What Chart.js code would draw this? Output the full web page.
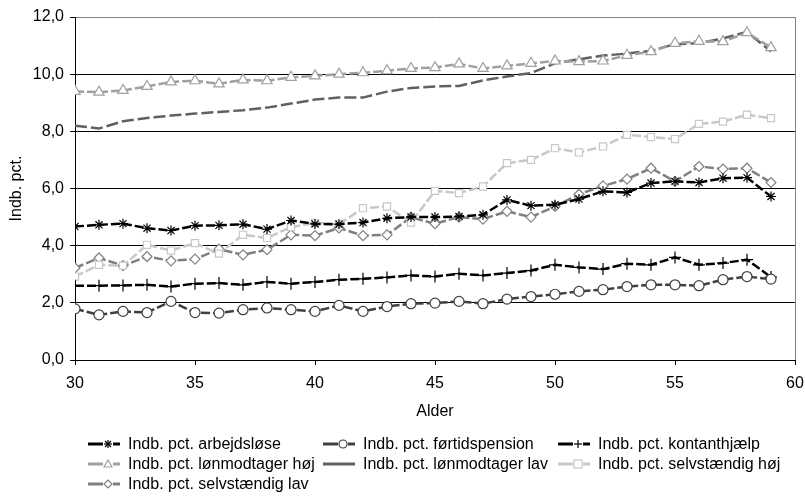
<!DOCTYPE html>
<html>
<head>
<meta charset="utf-8">
<script src="https://cdn.jsdelivr.net/npm/chart.js@4/dist/chart.umd.min.js"></script>
<style>
  html, body { margin: 0; padding: 0; background: #fff; }
  #wrap { position: relative; width: 805px; height: 496px; overflow: hidden; }
  #chart { position: absolute; left: 0; top: 0; }
  #legend { position: absolute; left: 0; top: 0; width: 805px; height: 496px; pointer-events: none;
            font-family: "Liberation Sans", Arial, sans-serif; font-size: 16px; color: #000; }
  .item { position: absolute; height: 20px; line-height: 20px; white-space: nowrap; }
  .item svg { position: absolute; left: 0; top: 0; }
  .item span { position: absolute; left: 40px; top: 0; }
</style>
</head>
<body>
<div id="wrap">
  <canvas id="chart" width="805" height="496"></canvas>
  <div id="legend"></div>
</div>
<script>
// Ages on the x axis
const ages = [30,31,32,33,34,35,36,37,38,39,40,41,42,43,44,45,46,47,48,49,50,51,52,53,54,55,56,57,58,59];

// Indbetalingsprocent by group
const arbejdsloese = [4.67,4.73,4.77,4.61,4.53,4.70,4.71,4.75,4.58,4.88,4.76,4.75,4.81,4.96,5.00,5.00,5.02,5.08,5.60,5.40,5.43,5.63,5.90,5.86,6.19,6.25,6.21,6.36,6.38,5.72];
const foertidspension = [1.79,1.58,1.70,1.66,2.05,1.66,1.64,1.76,1.82,1.76,1.70,1.91,1.70,1.87,1.97,1.99,2.05,1.97,2.13,2.22,2.30,2.40,2.46,2.57,2.63,2.63,2.60,2.81,2.92,2.83];
const kontanthjaelp = [2.60,2.60,2.61,2.63,2.57,2.67,2.69,2.63,2.73,2.67,2.73,2.81,2.84,2.89,2.96,2.92,3.02,2.96,3.04,3.13,3.33,3.24,3.18,3.37,3.33,3.59,3.33,3.39,3.51,2.90];
const loenmodtagerHoej = [9.40,9.37,9.43,9.57,9.73,9.77,9.66,9.80,9.77,9.89,9.94,10.00,10.05,10.12,10.20,10.23,10.36,10.20,10.29,10.38,10.46,10.44,10.46,10.66,10.79,11.08,11.15,11.14,11.45,10.93];
const loenmodtagerLav = [8.20,8.10,8.35,8.47,8.55,8.62,8.68,8.74,8.83,8.97,9.11,9.18,9.18,9.39,9.52,9.57,9.59,9.78,9.92,10.04,10.38,10.52,10.65,10.72,10.82,11.05,11.08,11.25,11.48,10.79];
const selvstaendigHoej = [2.92,3.33,3.30,4.03,3.83,4.09,3.72,4.38,4.27,4.65,4.80,4.75,5.31,5.37,4.81,5.92,5.84,6.07,6.89,7.00,7.41,7.26,7.47,7.88,7.80,7.73,8.26,8.34,8.58,8.46];
const selvstaendigLav = [3.22,3.57,3.30,3.62,3.47,3.53,3.88,3.68,3.86,4.38,4.35,4.62,4.35,4.38,4.99,4.77,5.00,4.93,5.20,5.00,5.37,5.80,6.09,6.33,6.71,6.25,6.77,6.68,6.71,6.21];

// Axis ticks
const xTicks = [30,35,40,45,50,55,60];
const yTicks = [0,2,4,6,8,10,12];

const FONT = { family: '"Liberation Sans", Arial, sans-serif', size: 16 };

const toPoints = vals => vals.map((v, i) => ({ x: ages[i], y: v }));

const seriesDefs = [
  { label: 'Indb. pct. arbejdsløse', data: arbejdsloese, color: '#000000', point: 'star', radius: 5, dash: [9,3], col: 0, row: 0 },
  { label: 'Indb. pct. førtidspension', data: foertidspension, color: '#404040', point: 'circle', radius: 5, dash: [9,3], col: 1, row: 0 },
  { label: 'Indb. pct. kontanthjælp', data: kontanthjaelp, color: '#000000', point: 'cross', radius: 6, dash: [9,3], col: 2, row: 0 },
  { label: 'Indb. pct. lønmodtager høj', data: loenmodtagerHoej, color: '#a0a0a0', point: 'triangle', radius: 6, dash: [9,3], col: 0, row: 1 },
  { label: 'Indb. pct. lønmodtager lav', data: loenmodtagerLav, color: '#606060', point: false, radius: 0, dash: [12,4], col: 1, row: 1 },
  { label: 'Indb. pct. selvstændig høj', data: selvstaendigHoej, color: '#c8c8c8', point: 'rect', radius: 5, dash: [9,3], col: 2, row: 1 },
  { label: 'Indb. pct. selvstændig lav', data: selvstaendigLav, color: '#808080', point: 'rectRot', radius: 5, dash: [9,3], col: 0, row: 2 }
];

const datasets = seriesDefs.map(s => ({
  label: s.label,
  data: toPoints(s.data),
  borderColor: s.color,
  backgroundColor: '#ffffff',
  borderWidth: 2.5,
  borderDash: s.dash,
  tension: 0,
  pointStyle: s.point,
  pointRadius: s.radius,
  pointBorderColor: s.color,
  pointBackgroundColor: '#ffffff',
  pointBorderWidth: 1.2,
  pointHoverRadius: s.radius
}));

const fmt = v => v.toFixed(1).replace('.', ',');

new Chart(document.getElementById('chart'), {
  type: 'line',
  data: { datasets },
  options: {
    responsive: false,
    animation: false,
    devicePixelRatio: 1,
    layout: { padding: { left: 0, right: 10, top: 17, bottom: 72 } },
    plugins: { legend: { display: false }, tooltip: { enabled: false } },
    scales: {
      x: {
        type: 'linear', min: 30, max: 60,
        afterBuildTicks: sc => { sc.ticks = xTicks.map(v => ({ value: v })); },
        afterFit: sc => { sc.height = 64; sc.paddingLeft = 0; sc.paddingRight = 0; },
        ticks: { color: '#000', font: FONT, padding: 9, maxRotation: 0 },
        grid: {
          color: c => (c.tick && c.tick.value === 60) ? '#808080' : 'rgba(0,0,0,0)',
          tickColor: '#000', tickLength: 5, lineWidth: 1
        },
        border: { color: '#000', width: 1 },
        title: { display: true, text: 'Alder', color: '#000', font: FONT, padding: { top: 4, bottom: 3 } }
      },
      y: {
        type: 'linear', min: 0, max: 12,
        afterBuildTicks: sc => { sc.ticks = yTicks.map(v => ({ value: v })); },
        afterFit: sc => { sc.width = 75; },
        ticks: { color: '#000', font: FONT, padding: 6, callback: v => fmt(v) },
        grid: {
          color: c => (c.tick && c.tick.value === 12) ? '#808080' : '#000000',
          tickColor: '#000', tickLength: 5, lineWidth: 1
        },
        border: { color: '#000', width: 1 },
        title: { display: true, text: 'Indb. pct.', color: '#000', font: FONT, padding: { top: 7, bottom: 0 } }
      }
    }
  }
});

// Legend: three columns, line sample with the series marker
const colX = [88, 323, 558];
const rowY = [434, 454, 474];

function markerSvg(s) {
  const cx = 20, cy = 10, r = 4, c = s.color;
  switch (s.point) {
    case 'star':
      return `<g stroke="${c}" stroke-width="1.2"><line x1="${cx-r}" y1="${cy}" x2="${cx+r}" y2="${cy}"/><line x1="${cx}" y1="${cy-r}" x2="${cx}" y2="${cy+r}"/><line x1="${cx-3}" y1="${cy-3}" x2="${cx+3}" y2="${cy+3}"/><line x1="${cx-3}" y1="${cy+3}" x2="${cx+3}" y2="${cy-3}"/></g>`;
    case 'circle':
      return `<circle cx="${cx}" cy="${cy}" r="${r}" fill="#fff" stroke="${c}" stroke-width="1.2"/>`;
    case 'cross':
      return `<g stroke="${c}" stroke-width="1.2"><line x1="${cx-r}" y1="${cy}" x2="${cx+r}" y2="${cy}"/><line x1="${cx}" y1="${cy-r}" x2="${cx}" y2="${cy+r}"/></g>`;
    case 'triangle':
      return `<polygon points="${cx},${cy-r} ${cx+r},${cy+r-1} ${cx-r},${cy+r-1}" fill="#fff" stroke="${c}" stroke-width="1.2"/>`;
    case 'rect':
      return `<rect x="${cx-r}" y="${cy-r}" width="${2*r}" height="${2*r}" fill="#fff" stroke="${c}" stroke-width="1.2"/>`;
    case 'rectRot':
      return `<polygon points="${cx},${cy-r} ${cx+r},${cy} ${cx},${cy+r} ${cx-r},${cy}" fill="#fff" stroke="${c}" stroke-width="1.2"/>`;
    default:
      return '';
  }
}

const legend = document.getElementById('legend');
seriesDefs.forEach(s => {
  const el = document.createElement('div');
  el.className = 'item';
  el.style.left = colX[s.col] + 'px';
  el.style.top = rowY[s.row] + 'px';
  el.innerHTML =
    `<svg width="36" height="20" viewBox="0 0 36 20">` +
    `<line x1="0" y1="10" x2="15" y2="10" stroke="${s.color}" stroke-width="3"/>` +
    `<line x1="25" y1="10" x2="32" y2="10" stroke="${s.color}" stroke-width="3"/>` +
    (s.point ? '' : `<line x1="15" y1="10" x2="25" y2="10" stroke="${s.color}" stroke-width="3"/>`) +
    markerSvg(s) +
    `</svg><span></span>`;
  el.querySelector('span').textContent = s.label;
  legend.appendChild(el);
});
</script>
</body>
</html>
